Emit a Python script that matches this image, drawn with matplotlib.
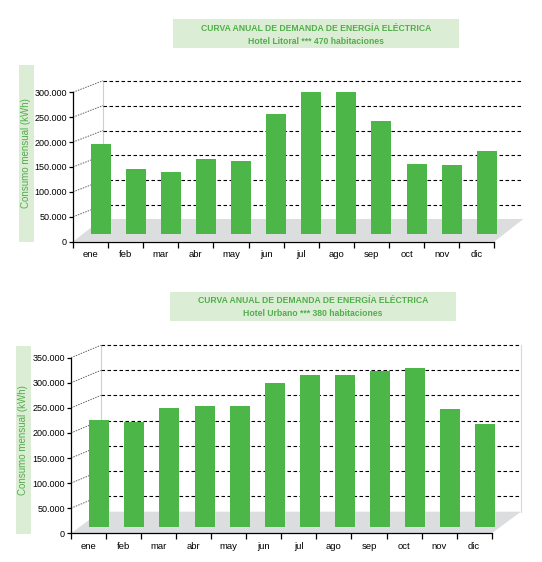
import matplotlib
matplotlib.use('Agg')
import matplotlib.pyplot as plt
from matplotlib.patches import Rectangle, Polygon
from matplotlib.ticker import FuncFormatter

# datos
meses = ['ene', 'feb', 'mar', 'abr', 'may', 'jun', 'jul', 'ago', 'sep', 'oct', 'nov', 'dic']
litoral_kwh = [180000, 130000, 124000, 150000, 146000, 240000, 285000, 285000, 226000, 140000, 138000, 166000]
urbano_kwh = [213000, 209000, 237000, 241000, 241000, 286000, 302000, 302000, 310000, 316000, 235000, 205000]
ticks_litoral = [0, 50000, 100000, 150000, 200000, 250000, 300000]
ticks_urbano = [0, 50000, 100000, 150000, 200000, 250000, 300000, 350000]
titulo = 'CURVA ANUAL DE DEMANDA DE ENERGÍA ELÉCTRICA'
sub_litoral = 'Hotel Litoral *** 470 habitaciones'
sub_urbano = 'Hotel Urbano *** 380 habitaciones'
eje_y = 'Consumo mensual (kWh)'

W, H = 542, 562
VERDE = '#4cb748'
VERDE_TXT = '#52ad4b'
CAJA = '#dcedd5'
SUELO = '#dcdddf'

plt.rcParams['font.family'] = ['Liberation Sans', 'DejaVu Sans']


def miles(v, pos):
    return '{:,.0f}'.format(v).replace(',', '.')


def caja_fig(fig, x0, y0, x1, y1):
    # rectangulo en pixeles (origen arriba a la izquierda)
    r = Rectangle((x0 / W, 1 - y1 / H), (x1 - x0) / W, (y1 - y0) / H,
                  transform=fig.transFigure, facecolor=CAJA, edgecolor='none', zorder=-1)
    fig.patches.append(r)


def grafico(fig, frente, valores, yticks, pared, suelo, despl, ancho_px, pared_dcha, x_fin):
    x0, y0, x1, y1 = frente  # plano frontal en pixeles
    ymax = yticks[-1]
    cat_px = (x1 - x0) / 12.0
    val_px = (y0 - y1) / ymax
    ax = fig.add_axes([x0 / W, 1 - y0 / H, (x1 - x0) / W, (y0 - y1) / H])
    ax.set_xlim(0, 12)
    ax.set_ylim(0, ymax)
    ax.patch.set_alpha(0)
    for s in ['top', 'right']:
        ax.spines[s].set_visible(False)
    for s in ['left', 'bottom']:
        ax.spines[s].set_linewidth(0.9)
        ax.spines[s].set_zorder(6)

    wdx, wdy = pared[0] / cat_px, pared[1] / val_px
    fdx, fdy = suelo[0] / cat_px, suelo[1] / val_px
    bdx, bdy = despl[0] / cat_px, despl[1] / val_px
    xend = (x_fin - x0) / cat_px

    # suelo gris
    ax.add_patch(Polygon([(0, 0), (12, 0), (12 + fdx, fdy), (fdx, fdy)], closed=True,
                         facecolor=SUELO, edgecolor='none', zorder=1, clip_on=False))
    # pared del fondo
    ax.plot([wdx, wdx], [fdy, ymax + wdy], color='#cfcfcf', lw=0.8, zorder=2, clip_on=False)
    if pared_dcha:
        ax.plot([xend, xend], [fdy, ymax + wdy], color='#d8d8d8', lw=0.8, zorder=2, clip_on=False)
    for v in yticks[1:]:
        ax.plot([wdx, xend], [v + wdy, v + wdy], color='black', lw=0.8,
                ls=(0, (3.2, 2.2)), zorder=2, clip_on=False)
        ax.plot([0, wdx], [v, v + wdy], color='#606060', lw=0.7,
                ls=(0, (1.5, 1.2)), zorder=2, clip_on=False)

    # barras
    xs = [i + 0.5 + bdx for i in range(12)]
    ax.bar(xs, valores, width=ancho_px / cat_px, bottom=bdy, color=VERDE,
           edgecolor='none', zorder=4, clip_on=False)

    ax.set_yticks(yticks)
    ax.yaxis.set_major_formatter(FuncFormatter(miles))
    ax.set_xticks(range(13))
    ax.set_xticklabels([])
    ax.set_xticks([i + 0.5 for i in range(12)], minor=True)
    ax.set_xticklabels(meses, minor=True)
    ax.tick_params(axis='y', direction='out', length=3, width=0.9, pad=1.5, labelsize=6.5)
    ax.tick_params(axis='x', which='major', direction='out', length=4, width=0.9)
    ax.tick_params(axis='x', which='minor', length=0, pad=6, labelsize=6.8)
    return ax


fig = plt.figure(figsize=(W / 100, H / 100), dpi=100)

# grafico 1: Hotel Litoral
caja_fig(fig, 172.8, 19, 459, 47.7)
fig.text(316 / W, 1 - 28.3 / H, titulo, ha='center', va='center', color=VERDE_TXT,
         fontsize=6.2, fontweight='bold')
fig.text(316 / W, 1 - 41.7 / H, sub_litoral, ha='center', va='center', color=VERDE_TXT,
         fontsize=6.2, fontweight='bold')
caja_fig(fig, 19, 65, 34, 241.7)
fig.text(26.5 / W, 1 - 153 / H, eje_y, rotation=90, ha='center', va='center',
         color=VERDE_TXT, fontsize=7)
grafico(fig, (73, 241.7, 494.3, 92.3), litoral_kwh, ticks_litoral,
        (30, 11.6), (29, 22.7), (10, 8), 20, False, 523)

# grafico 2: Hotel Urbano
caja_fig(fig, 170, 292, 455.6, 320.7)
fig.text(312.8 / W, 1 - 300.7 / H, titulo, ha='center', va='center', color=VERDE_TXT,
         fontsize=6.2, fontweight='bold')
fig.text(312.8 / W, 1 - 313.7 / H, sub_urbano, ha='center', va='center', color=VERDE_TXT,
         fontsize=6.2, fontweight='bold')
caja_fig(fig, 15.9, 346, 31.1, 534)
fig.text(23.5 / W, 1 - 440 / H, eje_y, rotation=90, ha='center', va='center',
         color=VERDE_TXT, fontsize=7)
grafico(fig, (71, 533.3, 491.7, 357.7), urbano_kwh, ticks_urbano,
        (29.7, 12.4), (29.3, 21.6), (10.8, 6.6), 20, True, 521)

fig.savefig('out.png', dpi=100)
